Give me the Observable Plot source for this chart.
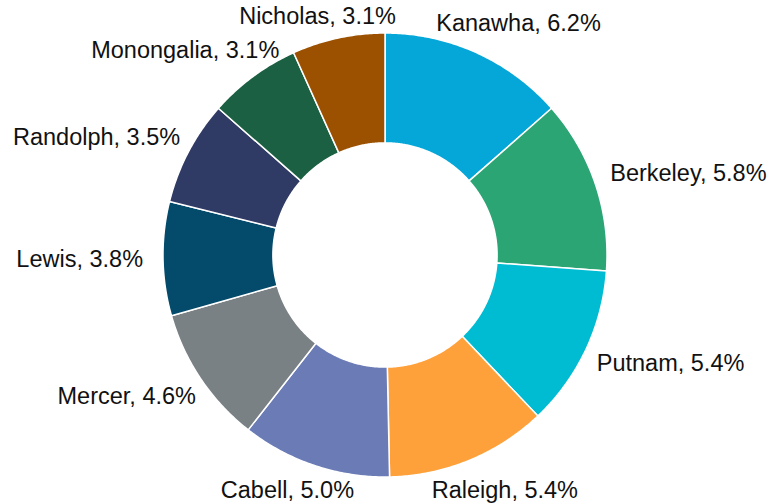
<!DOCTYPE html>
<html><head><meta charset="utf-8">
<script src="https://cdn.jsdelivr.net/npm/d3@7"></script>
<script src="https://cdn.jsdelivr.net/npm/@observablehq/plot@0.6"></script>
<style>body{margin:0;background:#fff;}</style>
</head><body><div id="chart"></div>
<script>
const counties = ["Kanawha","Berkeley","Putnam","Raleigh","Cabell","Mercer","Lewis","Randolph","Monongalia","Nicholas"];
const shares = [6.2,5.8,5.4,5.4,5.0,4.6,3.8,3.5,3.1,3.1];
const sliceColors = ["#05a7d8","#2aa573","#00bcd3","#ffa13a","#6a7bb6","#798185","#034a6b","#303b65","#1b6042","#9c5100"];

const W = 774, H = 504;
const mL = 162.5, mR = 167.5, mT = 32.5, mB = 27.5;
const R = (W - mL - mR) / 2;
const cx = mL + R, cy = mT + R;
const inner = 0.505;
const fontSize = 23.5;
const fontFamily = '"Liberation Sans", Arial, Helvetica, sans-serif';

// slice polygons in unit data space
const arcs = d3.pie().sort(null).value(d => d)(shares);
const polys = [];
arcs.forEach((a, i) => {
  const n = Math.max(8, Math.ceil((a.endAngle - a.startAngle) / (Math.PI / 360)));
  const pts = [];
  for (let k = 0; k <= n; k++) {
    const t = a.startAngle + (a.endAngle - a.startAngle) * k / n;
    pts.push([Math.sin(t), Math.cos(t)]);
  }
  for (let k = n; k >= 0; k--) {
    const t = a.startAngle + (a.endAngle - a.startAngle) * k / n;
    pts.push([inner * Math.sin(t), inner * Math.cos(t)]);
  }
  pts.push(pts[0]);
  pts.forEach(p => polys.push({name: counties[i], x: p[0], y: p[1]}));
});

// labels: "outside end" placement, kept inside the frame, with overlap relaxation
const labels = counties.map((c, i) => `${c}, ${shares[i].toFixed(1)}%`);
const ctx = document.createElement("canvas").getContext("2d");
ctx.font = `${fontSize}px ${fontFamily}`;
const widths = labels.map(l => ctx.measureText(l).width);
const bh = fontSize * 1.05, gap = 20, pad = 3;
function place(phi, w) {
  const s = Math.sin(phi), c = Math.cos(phi);
  let x = cx + s * (R + gap + w / 2);
  let y = cy - c * (R + gap + bh / 2);
  x = Math.max(2 + w / 2, Math.min(W - 2 - w / 2, x));
  y = Math.max(4 + bh / 2, Math.min(H - 2 - bh / 2, y));
  return {x, y, w};
}
const phis = arcs.map(a => (a.startAngle + a.endAngle) / 2);
const overlap = (a, b) => Math.abs(a.x - b.x) < (a.w + b.w) / 2 + pad && Math.abs(a.y - b.y) < bh + pad;
for (let it = 0; it < 400; it++) {
  let moved = false;
  for (let i = 0; i < phis.length; i++) {
    const j = (i + 1) % phis.length;
    const a = place(phis[i], widths[i]), b = place(phis[j], widths[j]);
    if (overlap(a, b)) { phis[i] -= 0.004; phis[j] += 0.004; moved = true; }
  }
  if (!moved) break;
}
const labelData = labels.map((l, i) => {
  const p = place(phis[i], widths[i]);
  return {label: l, x: (p.x - cx) / R, y: (cy - p.y) / R};
});

const chart = Plot.plot({
  width: W, height: H,
  marginLeft: mL, marginRight: mR, marginTop: mT, marginBottom: mB,
  x: {domain: [-1, 1], axis: null},
  y: {domain: [-1, 1], axis: null},
  color: {domain: counties, range: sliceColors},
  style: {fontFamily, background: "#fff", overflow: "visible"},
  marks: [
    Plot.line(polys, {x: "x", y: "y", z: "name", fill: "name", stroke: "white", strokeWidth: 1.5, curve: "linear"}),
    Plot.text(labelData, {x: "x", y: "y", text: "label", fontSize, fontFamily, fill: "#111", textAnchor: "middle", lineAnchor: "middle"})
  ]
});
document.getElementById("chart").append(chart);
</script>
</body></html>
